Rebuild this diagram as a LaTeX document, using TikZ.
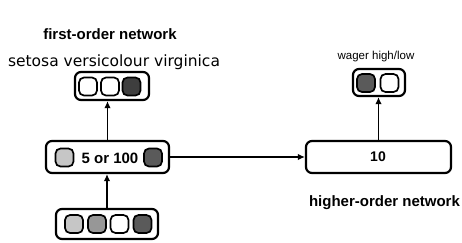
\documentclass[tikz,border=0pt]{standalone}
\usepackage{fontspec}
\setmainfont{Liberation Sans}
\newfontfamily\classfont{DejaVu Sans}
\usetikzlibrary{arrows.meta}

\definecolor{unitlight}{HTML}{C6C6C6}
\definecolor{unitmid}{HTML}{979797}
\definecolor{unitdark}{HTML}{5A5A5A}
\definecolor{unitblack}{HTML}{3E3E3E}

\tikzset{
  layer/.style={draw,line width=2.2pt,rounded corners=6pt,inner sep=0pt,minimum height=#1},
  unit/.style={draw,line width=1.7pt,rounded corners=5pt,minimum size=18pt,inner sep=0pt,fill=#1},
  link/.style={line width=1.7pt,-{Latex[length=7pt,width=6.5pt]}},
  caption/.style={inner sep=0pt,font=\bfseries\fontsize{15}{18}\selectfont},
}

\begin{document}
\begin{tikzpicture}[x=1pt,y=-1pt]
\path[use as bounding box] (0,0) rectangle (462,242);
% layers
\node[layer=30pt,minimum width=102pt] (input) at (107,224) {};
\node[layer=32pt,minimum width=123pt] (hidden) at (107.5,157) {};
\node[layer=28pt,minimum width=74pt] (output) at (112,86) {};
\node[layer=32pt,minimum width=145pt] (higher) at (378.5,157) {};
\node[layer=27pt,minimum width=52pt] (wager) at (379,82.5) {};
% units
\foreach \x/\c [count=\i] in {74/unitlight,97/unitmid,119.5/white,142.5/unitdark}
  \node[unit=\c] (in\i) at (\x,224) {};
\node[unit=unitlight] (hid1) at (64.5,157.5) {};
\node[unit=unitdark] (hid2) at (153,157.5) {};
\foreach \x/\c [count=\i] in {88/white,110/white,131.5/unitblack}
  \node[unit=\c] (out\i) at (\x,86.5) {};
\node[unit=unitdark] (wag1) at (366,83) {};
\node[unit=white] (wag2) at (389.5,83) {};
% connections
\draw[link] (input.north) -- (input.north |- hidden.south);
\draw[link] (hidden.north) -- (hidden.north |- output.south);
\draw[link] (hidden.east) -- (higher.west);
\draw[link] (higher.north) -- (higher.north |- wager.south);
% labels
\node[caption] (hidsize) at (110,158) {5 or 100};
\node[caption,font=\bfseries\fontsize{14}{17}\selectfont] (hosize) at (378,156.5) {10};
\node[caption] (fotitle) at (110,34) {first-order network};
\node[inner sep=0pt,font=\classfont\fontsize{15.5}{18}\selectfont] (classes) at (114,62) {setosa versicolour virginica};
\node[inner sep=0pt,font=\fontsize{11.5}{14}\selectfont] (wagtitle) at (376,57) {wager high/low};
\node[caption] (hotitle) at (384.5,203) {higher-order network};
\end{tikzpicture}
\end{document}
